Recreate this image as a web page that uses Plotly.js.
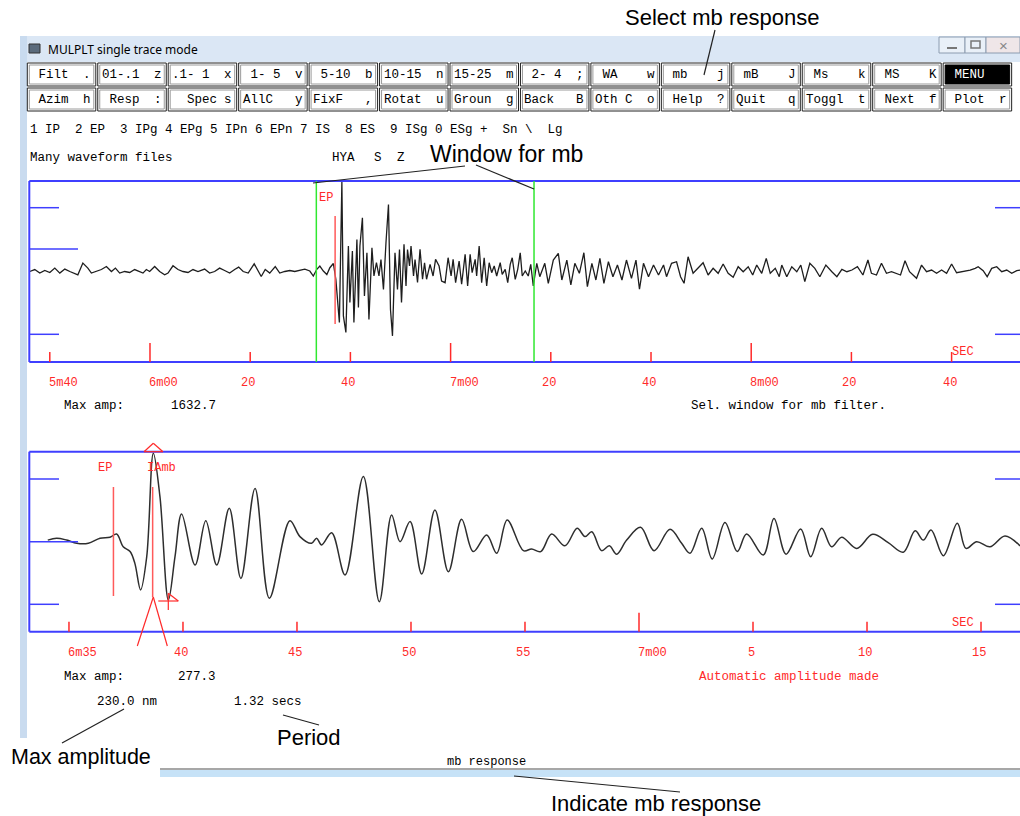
<!DOCTYPE html>
<html><head><meta charset="utf-8">
<script src="https://cdn.plot.ly/plotly-3.0.1.min.js"></script>
<style>html,body{margin:0;padding:0;background:#fff}#c{width:1020px;height:816px}</style>
</head><body><div id="c"></div><script>
// ---------- DATA (seconds after 6m00, amplitude in counts) ----------
const topTime = [-24.0,-23.0,-22.0,-21.0,-20.0,-19.0,-18.0,-17.0,-16.0,-15.0,-14.4,-13.4,-12.4,-11.7,-10.7,-9.7,-8.7,-7.7,-6.9,-6.05,-5.05,-4.05,-3.06,-2.06,-1.4,-0.73,-0.07,0.93,1.93,2.93,3.6,4.59,5.59,6.59,7.59,8.58,9.58,10.9,11.9,12.9,13.9,14.9,15.9,16.9,17.7,18.6,19.6,20.8,21.6,22.2,23.0,23.9,25.0,25.9,26.9,27.9,28.9,29.9,30.9,
31.9,32.6,33.3,33.9,34.6,35.3,35.9,36.6,37.1,37.4,37.8,38.3,38.6,39.1,39.6,39.9,40.4,40.7,41.3,41.6,41.9,42.4,42.8,43.3,43.7,44.3,44.7,45.2,45.7,46.1,46.6,47.1,47.6,48.0,48.4,48.9,49.4,49.8,50.2,50.7,51.1,51.4,51.8,52.1,52.6,52.9,53.4,
53.9,54.4,54.8,55.2,55.9,56.5,57.0,57.7,58.2,58.9,59.5,60.1,60.5,61.0,61.7,62.2,62.9,63.4,63.9,64.3,64.9,65.2,65.7,66.2,66.7,67.2,67.7,68.2,68.7,69.2,69.9,70.3,70.9,71.4,71.9,72.3,72.9,73.4,73.9,74.3,74.9,75.5,76.0,76.5,
77.2,77.8,78.8,79.5,80.5,81.5,82.2,83.2,84.0,84.8,85.7,86.6,87.3,88.2,89.0,89.8,90.6,91.5,92.4,93.3,94.2,95.1,96.1,97.0,97.7,98.5,99.5,100.5,101.5,102.5,103.1,104.1,105.1,105.9,106.6,107.4,108.4,109.4,110.4,111.4,112.4,113.4,114.4,115.4,116.4,117.4,118.4,119.4,120.3,121.1,122.1,123.0,123.8,124.8,125.6,
126.1,127.1,128.1,129.1,129.9,130.7,131.7,132.7,133.7,134.9,136.1,137.1,138.1,139.1,140.1,141.2,142.3,143.3,144.0,145.0,146.0,147.0,148.0,149.0,149.8,150.7,151.6,153.0,154.0,155.0,156.0,157.0,158.0,159.0,160.0,161.0,162.3,163.7,164.7,165.3,166.3,167.1,168.0,169.0,170.0,171.0,172.0,173.0,173.7];
const topAmp = [0,36,-29,18,-18,62,-29,44,0,-29,-60,153,62,-29,0,36,91,0,62,-29,0,-18,36,0,-29,36,0,91,0,-60,-29,104,36,0,-18,36,0,44,-29,0,62,18,-29,36,80,0,-29,140,0,-91,36,-29,91,-29,0,18,0,18,44,
9,-82,40,100,9,-55,69,146,-146,-564,-928,1633,-810,-1110,464,-564,373,-928,582,-655,464,979,-446,342,-874,433,-82,160,-82,218,-328,524,1223,-692,-1174,342,-328,400,-564,495,-264,400,100,464,-82,218,-200,
404,-142,160,-142,131,-82,222,100,-173,-204,251,-82,222,-204,191,-233,313,-264,313,-22,222,-82,464,-204,251,-264,160,-22,100,-82,160,-51,40,-204,131,251,-142,40,342,-82,9,-82,131,-264,
149,-95,149,-215,209,331,-155,209,-246,149,-33,342,-277,149,-155,240,-215,178,-95,118,-155,209,-124,209,-324,149,-95,118,-64,118,-95,149,178,-95,-215,269,-33,58,160,-64,58,-33,137,-33,-106,87,-4,87,-64,118,-33,240,-33,58,-95,
118,-95,87,-4,118,-186,149,58,-95,118,-4,-95,40,-4,27,87,-64,209,-33,-64,149,-33,-4,-33,-64,197,-4,-124,118,-4,27,-33,27,-33,137,-22,-4,27,58,87,15,-95,58,87,-4,27,-33,15,27];
const botTime = [34.07,34.46,34.90,35.34,35.85,36.36,36.80,37.09,37.38,37.68,37.89,38.14,38.41,38.70,38.99,39.36,39.65,39.94,40.53,41.00,41.48,42.03,42.54,43.16,43.79,44.69,45.13,45.64,45.86,46.08,46.52,47.11,47.91,48.61,49.15,49.52,49.96,50.47,51.05,51.64,52.22,52.73,53.32,53.76,54.22,54.93,55.29,55.69,56.17,56.75,57.29,57.63,57.93,58.36,58.70,59.02,59.46,60.07,60.66,61.36,61.87,62.24,62.75,63.21,63.77,64.31,64.72,65.45,65.92,66.45,67.09,67.53,68.01,68.45,68.89,69.55,70.25,70.93,71.59,72.11,72.47,72.81,73.35,73.96,74.34,74.81,75.39,76.05,76.71];
const botAmp = [5,11,5,-5,-5,11,14,24,-16,-31,-68,-151,-47,277,141,-183,-47,87,-73,66,-73,105,-115,167,-177,66,16,-5,11,-10,28,-104,204,-188,84,0,63,-101,99,-94,70,-31,21,-36,68,-28,-23,-31,24,-13,42,16,31,-28,-13,-39,5,45,-28,39,-5,-36,42,-54,60,-31,24,-42,73,-39,40,-47,42,-16,14,-21,23,-3,-33,34,5,37,-44,58,-21,0,-16,18,-13];
const topTickSec = [-20,0,20,40,60,80,100,120,140,160];
const topTickLabels = ['5m40','6m00','20','40','7m00','20','40','8m00','20','40'];
const botTickSec = [35,40,45,50,55,60,65,70,75];
const botTickLabels = ['6m35','40','45','50','55','7m00','5','10','15'];
const mbWindow = [33.2, 76.65];
const epPick = 36.95;
const ampPick = 38.67;
const ampTrough = 39.36;
const topMaxAmp = '1632.7';
const botMaxAmp = '277.3';
const ampNm = '230.0 nm';
const periodText = '1.32 secs';
const row1Labels = [' Filt','01-.1','.1- 1',' 1- 5',' 5-10','10-15','15-25',' 2- 4',' WA',' mb',' mB',' Ms',' MS',' MENU'];
const row1Keys = ['.','z','x','v','b','n','m',';','w','j','J','k','K',''];
const row2Labels = [' Azim',' Resp','  Spec','AllC','FixF','Rotat','Groun','Back','Oth C',' Help','Quit','Toggl',' Next',' Plot'];
const row2Keys = ['h',':','s','y',',','u','g','B','o','?','q','t','f','r'];
const phaseLine = '1 IP  2 EP  3 IPg 4 EPg 5 IPn 6 EPn 7 IS  8 ES  9 ISg 0 ESg +  Sn \\  Lg';

// ---------- LAYOUT HELPERS ----------
const W = 1020, H = 816;
const px = x => x / W, py = y => 1 - y / H;
const MONO = 'Liberation Mono, Courier New, monospace';
const SANS = 'Liberation Sans, Arial, sans-serif';
const BLUE = '#3f3fff', RED = '#ff2a2a', PICK = '#ff5a5a', GREEN = '#30e830';
const nb = s => s.replace(/ /g, '\u00a0');
const shapes = [], ann = [];
function L(x0, y0, x1, y1, color, width, xref) {
  shapes.push({type:'line', xref: xref || 'paper', yref:'paper',
    x0: xref ? x0 : px(x0), x1: xref ? x1 : px(x1), y0: py(y0), y1: py(y1),
    line:{color:color, width:width}});
}
function R(x0, y0, x1, y1, fill, lc, lw) {
  shapes.push({type:'rect', xref:'paper', yref:'paper', x0:px(x0), x1:px(x1), y0:py(y1), y1:py(y0),
    fillcolor: fill, line:{color: lc || 'rgba(0,0,0,0)', width: lw || 0}, layer:'below'});
}
function T(x, y, s, o) {
  o = o || {};
  ann.push({xref: o.xref || 'paper', yref:'paper', x: o.xref ? x : px(x), y: py(y), text: s, showarrow:false,
    xanchor: o.xa || 'left', yanchor: 'middle', xshift: o.xs || 0, borderpad: 0,
    font:{family: o.f || MONO, size: o.s || 12.5, color: o.c || '#000'}});
}

// ---------- WINDOW CHROME ----------
R(22, 36, 1020, 62, '#dbe7f5');
R(20, 36, 27, 738, '#c9dbef');
T(47, 49, 'MULPLT single trace mode', {f:'Noto Sans, DejaVu Sans, sans-serif', s:12});
R(29, 44, 40, 53, '#5b6b7c', '#333', 1);
R(939, 37, 965, 53, '#e9f0f8', '#8c9cb0', 1);
R(965, 37, 986, 53, '#e9f0f8', '#8c9cb0', 1);
R(986, 37, 1020, 53, '#efe6e8', '#8c9cb0', 1);
L(947, 48, 957, 48, '#777', 2);
shapes.push({type:'rect', xref:'paper', yref:'paper', x0:px(971), x1:px(980), y0:py(48), y1:py(41), line:{color:'#777', width:1.5}});
T(1003, 45, '×', {f:SANS, s:15, c:'#888', xa:'center'});
L(160, 769, 1020, 769, '#8a8a8a', 1.5);
R(160, 770, 1020, 777, '#c6e2f7');

// ---------- BUTTONS ----------
function buttons(labels, keys, y0, y1) {
  labels.forEach((lab, i) => {
    const l = 27.3 + 70.45 * i, r = l + 68.5;
    const menu = lab.trim() === 'MENU';
    R(l, y0, r, y1, '#ffffff', '#222', 1);
    R(l + 2, y0 + 2, r - 2, y1 - 2, menu ? '#000' : '#fff', menu ? '#000' : '#9a9a9a', 1);
    T(l + 3, (y0 + y1) / 2 + 0.5, nb(lab), {c: menu ? '#fff' : '#000'});
    if (keys[i]) T(r - 8.5, (y0 + y1) / 2 + 0.5, keys[i], {xa:'center'});
  });
}
buttons(row1Labels, row1Keys, 63, 86);
buttons(row2Labels, row2Keys, 88, 111);

T(29, 130, nb(phaseLine));
T(29, 158, 'Many waveform files');
T(331, 158, 'HYA'); T(373, 158, 'S'); T(396, 158, 'Z');

// ---------- PLOT FRAMES ----------
function frame(top, bot, marks) {
  L(29.3, top, 1020, top, BLUE, 2);
  L(29.3, bot, 1020, bot, BLUE, 2);
  L(29.3, top, 29.3, bot, BLUE, 2);
  L(29.3, marks[0], 59, marks[0], BLUE, 1.5);
  L(29.3, marks[1], 78, marks[1], BLUE, 1.5);
  L(29.3, marks[2], 59, marks[2], BLUE, 1.5);
  L(995, marks[0], 1020, marks[0], BLUE, 1.5);
  L(995, marks[2], 1020, marks[2], BLUE, 1.5);
}
frame(181, 362, [207.7, 249, 334.3]);
frame(451.7, 631.7, [479, 541.7, 604.3]);

function ticks(vals, labels, xref, bot, labY) {
  vals.forEach((t, i) => {
    const len = (t % 60 === 0) ? 19 : 10;
    L(t, bot, t, bot - len, RED, 1.5, xref);
    const lab = labels[i];
    if (lab.indexOf('m') >= 0) T(t, labY, lab, {xref: xref, xa:'left', xs:-2, c:RED, s:12});
    else T(t, labY, lab, {xref: xref, xa:'center', xs:-2, c:RED, s:12});
  });
}
ticks(topTickSec, topTickLabels, 'x', 362, 383);
ticks(botTickSec, botTickLabels, 'x2', 631.7, 653);
T(951, 352, 'SEC', {c:RED, s:12});
T(951, 622.5, 'SEC', {c:RED, s:12});

// mb window (green) + EP pick on top trace
L(mbWindow[0], 181, mbWindow[0], 362, GREEN, 1.5, 'x');
L(mbWindow[1], 181, mbWindow[1], 362, GREEN, 1.5, 'x');
L(epPick, 216, epPick, 324, PICK, 1.5, 'x');
T(318, 198, 'EP', {c:RED, s:12});

// picks on bottom trace
L(epPick, 487, epPick, 596, PICK, 1.5, 'x2');
T(97, 468, 'EP', {c:RED, s:12});
T(146, 468, 'IAmb', {c:RED, s:12});
L(ampPick, 487, ampPick, 597, PICK, 1.5, 'x2');
L(144, 451.7, 153.3, 443.3, RED, 1.2); L(153.3, 443.3, 163, 451.7, RED, 1.2); L(144, 451.7, 163, 451.7, RED, 1.2);
L(153.3, 597, 137.3, 646, RED, 1.2); L(153.3, 597, 167.3, 646, RED, 1.2);
L(ampTrough, 601, ampTrough, 601, RED, 1, 'x2');
L(158.3, 601, 178.3, 601, RED, 1.2); L(168.3, 593.3, 168.3, 610, RED, 1.2); L(168.3, 593.3, 178.3, 601, RED, 1.2);

// ---------- TEXT BELOW TRACES ----------
T(63, 406, 'Max amp:'); T(170, 406, topMaxAmp);
T(690, 406, 'Sel. window for mb filter.');
T(63, 677, 'Max amp:'); T(177, 677, botMaxAmp);
T(698, 677, 'Automatic amplitude made', {c:RED});
T(96, 702, nb(ampNm)); T(233, 702, nb(periodText));
T(446, 762, 'mb response', {s:12});

// ---------- CALLOUT LABELS ----------
T(722, 17, 'Select mb response', {f:SANS, s:22, xa:'center'});
L(715, 30, 704, 75, '#222', 1.2);
T(506, 154, 'Window for mb', {f:SANS, s:23, xa:'center'});
L(465, 166, 313, 183, '#222', 1.2);
L(476, 165, 534, 189, '#222', 1.2);
T(309, 737, 'Period', {f:SANS, s:22, xa:'center'});
L(283, 715, 319, 725, '#222', 1.2);
T(81, 757, 'Max amplitude', {f:SANS, s:21.5, xa:'center'});
L(124, 709, 62, 743, '#222', 1.2);
T(656, 803, 'Indicate mb response', {f:SANS, s:22, xa:'center'});
L(514, 776, 680, 792, '#222', 1.2);

// ---------- TRACES ----------
const traces = [
  {x: topTime, y: topAmp, xaxis:'x', yaxis:'y', mode:'lines', line:{color:'#1e1e1e', width:1.3}, hoverinfo:'skip'},
  {x: botTime, y: botAmp, xaxis:'x2', yaxis:'y2', mode:'lines', line:{color:'#2e2e2e', width:1.5, shape:'spline', smoothing:1}, hoverinfo:'skip'}
];
const ax = (dom, rng, anchor) => ({domain: dom, range: rng, visible:false, fixedrange:true, anchor: anchor});
const layout = {
  width: W, height: H, margin:{l:0, r:0, t:0, b:0}, showlegend:false,
  paper_bgcolor:'#fff', plot_bgcolor:'rgba(0,0,0,0)',
  xaxis: ax([px(29.3), 1], [-24.09, 173.65], 'y'),
  yaxis: ax([py(362), py(181)], [-1650, 1650], 'x'),
  xaxis2: ax([px(29.3), 1], [33.26, 76.71], 'y2'),
  yaxis2: ax([py(631.7), py(451.7)], [-282, 282], 'x2'),
  shapes: shapes, annotations: ann
};
Plotly.newPlot('c', traces, layout, {staticPlot:true, displayModeBar:false});
</script></body></html>
